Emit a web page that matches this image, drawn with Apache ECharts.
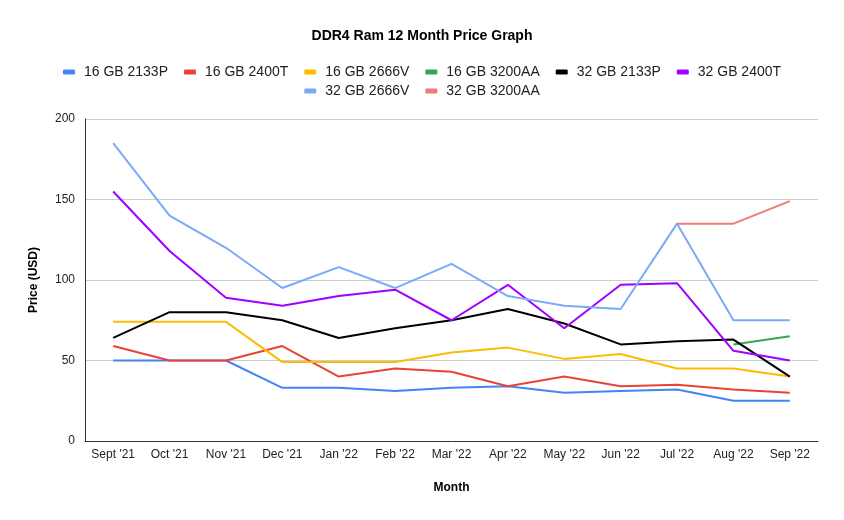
<!DOCTYPE html>
<html>
<head>
<meta charset="utf-8">
<script src="https://cdn.jsdelivr.net/npm/echarts@6/dist/echarts.min.js"></script>
<style>
  html, body { margin: 0; padding: 0; background: #fff; }
  #price_chart { width: 844px; height: 520px; }
</style>
</head>
<body>
<div id="price_chart"></div>
<script>
  // months on the x axis
  const months = ["Sept '21", "Oct '21", "Nov '21", "Dec '21", "Jan '22", "Feb '22", "Mar '22",
                  "Apr '22", "May '22", "Jun '22", "Jul '22", "Aug '22", "Sep '22"];

  // prices (USD)
  const gb16_2133P  = [50, 50, 50, 33, 33, 31, 33, 34, 30, 31, 32, 25, 25];
  const gb16_2400T  = [59, 50, 50, 59, 40, 45, 43, 34, 40, 34, 35, 32, 30];
  const gb16_2666V  = [74, 74, 74, 49, 49, 49, 55, 58, 51, 54, 45, 45, 40];
  const gb16_3200AA = [null, null, null, null, null, null, null, null, null, null, null, 60, 65];
  const gb32_2133P  = [64, 80, 80, 75, 64, 70, 75, 82, 73, 60, 62, 63, 40];
  const gb32_2400T  = [155, 118, 89, 84, 90, 94, 75, 97, 70, 97, 98, 56, 50];
  const gb32_2666V  = [185, 140, 120, 95, 108, 95, 110, 90, 84, 82, 135, 75, 75];
  const gb32_3200AA = [null, null, null, null, null, null, null, null, null, null, 135, 135, 149];

  const yTicks = [0, 50, 100, 150, 200];

  const seriesList = [
    { name: '16 GB 2133P',  data: gb16_2133P,  color: '#4285f4' },
    { name: '16 GB 2400T',  data: gb16_2400T,  color: '#ea4335' },
    { name: '16 GB 2666V',  data: gb16_2666V,  color: '#fbbc04' },
    { name: '16 GB 3200AA', data: gb16_3200AA, color: '#34a853' },
    { name: '32 GB 2133P',  data: gb32_2133P,  color: '#000000' },
    { name: '32 GB 2400T',  data: gb32_2400T,  color: '#a100ff' },
    { name: '32 GB 2666V',  data: gb32_2666V,  color: '#7baaf7' },
    { name: '32 GB 3200AA', data: gb32_3200AA, color: '#f07b72' }
  ];

  const font = 'Arial, "Liberation Sans", sans-serif';
  const chart = echarts.init(document.getElementById('price_chart'));

  const legendBase = {
    icon: 'roundRect',
    itemWidth: 12,
    itemHeight: 5,
    itemGap: 16,
    textStyle: { color: '#222', fontSize: 14, fontFamily: font, padding: [0, 0, 0, 4] }
  };

  let option = {
    animation: false,
    backgroundColor: '#fff',
    title: {
      text: 'DDR4 Ram 12 Month Price Graph',
      left: 'center',
      top: 24,
      textStyle: { fontSize: 14, fontWeight: 'bold', color: '#000', fontFamily: font }
    },
    legend: [
      Object.assign({}, legendBase, {
        top: 60, left: 'center',
        data: seriesList.slice(0, 6).map(s => s.name)
      }),
      Object.assign({}, legendBase, {
        top: 79, left: 'center',
        data: seriesList.slice(6).map(s => s.name)
      })
    ],
    grid: { left: 85, right: 26, top: 119, bottom: 79 },
    xAxis: {
      type: 'category',
      data: months,
      boundaryGap: true,
      name: 'Month',
      nameLocation: 'middle',
      nameGap: 41,
      nameTextStyle: { fontSize: 12, fontWeight: 'bold', color: '#000', fontFamily: font },
      axisLine: { lineStyle: { color: '#333', width: 1 } },
      axisTick: { show: false },
      axisLabel: { color: '#222', fontSize: 12, margin: 8, fontFamily: font, interval: 0 }
    },
    yAxis: {
      type: 'value',
      min: yTicks[0],
      max: yTicks[yTicks.length - 1],
      interval: 50,
      name: 'Price (USD)',
      nameLocation: 'middle',
      nameGap: 45,
      nameTextStyle: { fontSize: 12, fontWeight: 'bold', color: '#000', fontFamily: font },
      axisLine: { show: true, lineStyle: { color: '#333', width: 1 } },
      axisTick: { show: false },
      axisLabel: { color: '#222', fontSize: 12, margin: 10, fontFamily: font },
      splitLine: { lineStyle: { color: '#cccccc', width: 1 } }
    },
    series: seriesList.map(s => ({
      name: s.name,
      type: 'line',
      data: s.data,
      color: s.color,
      symbol: 'none',
      lineStyle: { width: 2, color: s.color },
      connectNulls: false
    }))
  };

  chart.setOption(option);
</script>
</body>
</html>
